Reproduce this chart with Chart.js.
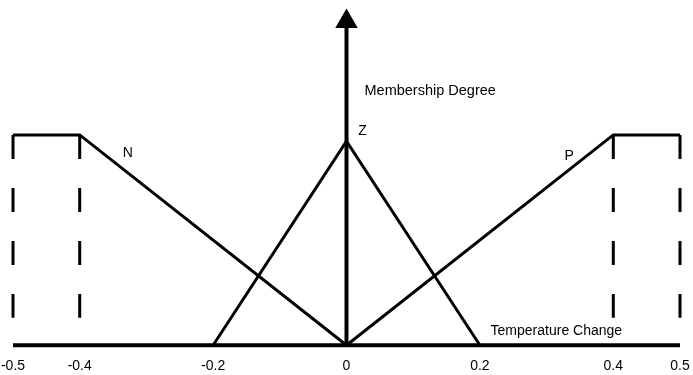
<!DOCTYPE html>
<html>
<head>
<meta charset="utf-8">
<script src="https://cdn.jsdelivr.net/npm/chart.js@4/dist/chart.umd.min.js"></script>
<style>
  html, body { margin: 0; padding: 0; background: #fff; }
  #wrap { width: 693px; height: 375px; }
</style>
</head>
<body>
<div id="wrap"><canvas id="fuzzyChart"></canvas></div>
<script>
  // membership functions (x = temperature change, y = degree)
  const tickValues = [-0.5, -0.4, -0.2, 0, 0.2, 0.4, 0.5];
  const nX = [-0.5, -0.4, 0];
  const nY = [1, 1, 0];
  const zX = [-0.2, 0, 0.2];
  const zY = [0, 0.97, 0];
  const pX = [0, 0.4, 0.5];
  const pY = [0, 1, 1];
  const dashX = [-0.5, -0.4, 0.4, 0.5];
  const dashY = [1, 0.13];
  const axisY = [0, 1.54];
  const baseX = [-0.5, 0.5];

  // text labels placed in data coordinates
  const labelText = ['N', 'Z', 'P', 'Membership Degree', 'Temperature Change'];
  const labelX = [-0.328, 0.024, 0.334, 0.027, 0.216];
  const labelY = [0.914, 1.02, 0.9, 1.21, 0.067];
  const labelAlign = ['center', 'center', 'center', 'left', 'left'];

  const FONT = '"Liberation Sans", Arial, sans-serif';

  function pts(xs, ys) {
    return xs.map((x, i) => ({ x: x, y: ys[i] }));
  }

  function lineSet(data, width, extra) {
    return Object.assign({
      data: data,
      borderColor: '#000',
      backgroundColor: '#000',
      borderWidth: width,
      pointRadius: 0,
      fill: false,
      tension: 0
    }, extra || {});
  }

  const datasets = [
    lineSet(pts(baseX, [0, 0]), 4),
    lineSet(pts(nX, nY), 3),
    lineSet(pts(zX, zY), 3),
    lineSet(pts(pX, pY), 3),
    lineSet(pts([0, 0], axisY), 4, {
      pointStyle: 'triangle',
      pointRadius: [0, 13],
      pointBorderWidth: 0
    })
  ];
  dashX.forEach(x => {
    datasets.push(lineSet(pts([x, x], dashY), 3, { borderDash: [24, 29] }));
  });

  const textPlugin = {
    id: 'textLabels',
    afterDatasetsDraw(chart) {
      const ctx = chart.ctx;
      const xs = chart.scales.x, ys = chart.scales.y;
      ctx.save();
      ctx.fillStyle = '#000';
      ctx.textBaseline = 'middle';
      labelText.forEach((t, i) => {
        ctx.font = (i === 3 ? '14.5px ' : '14px ') + FONT;
        ctx.textAlign = labelAlign[i];
        ctx.fillText(t, xs.getPixelForValue(labelX[i]), ys.getPixelForValue(labelY[i]));
      });
      ctx.restore();
    }
  };

  const ctx = document.getElementById('fuzzyChart').getContext('2d');
  new Chart(ctx, {
    type: 'line',
    data: { datasets: datasets },
    options: {
      responsive: true,
      maintainAspectRatio: false,
      animation: false,
      events: [],
      clip: false,
      layout: { padding: { left: 13, right: 10, top: 4, bottom: 0 } },
      plugins: { legend: { display: false }, tooltip: { enabled: false } },
      scales: {
        x: {
          type: 'linear',
          min: -0.5,
          max: 0.5,
          afterBuildTicks: axis => { axis.ticks = tickValues.map(v => ({ value: v })); },
          grid: {
            display: true,
            color: 'rgba(0,0,0,0)',
            drawOnChartArea: false,
            drawTicks: true,
            tickLength: 13
          },
          border: { display: false },
          ticks: {
            autoSkip: false,
            maxRotation: 0,
            padding: 0,
            color: '#000',
            font: { family: FONT, size: 14 },
            callback: v => String(v)
          }
        },
        y: {
          type: 'linear',
          min: 0,
          max: 1.58,
          display: false
        }
      }
    },
    plugins: [textPlugin]
  });
</script>
</body>
</html>
